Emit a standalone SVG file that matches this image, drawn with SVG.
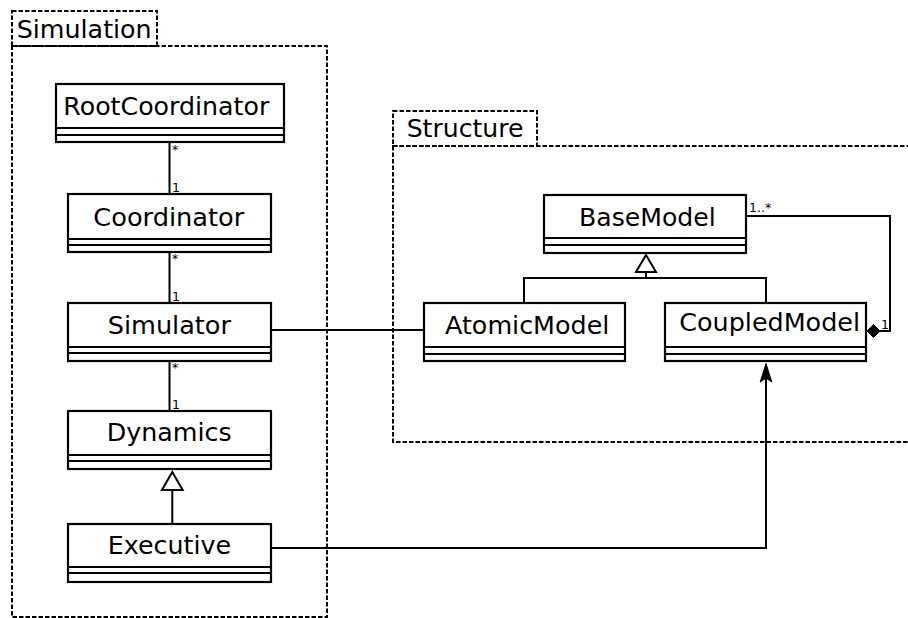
<svg xmlns="http://www.w3.org/2000/svg" width="908" height="618" viewBox="0 0 908 618">
<style>
.pkg{fill:none;stroke:#000;stroke-width:2;stroke-dasharray:4.5,2}
.box{fill:#fff;stroke:#000;stroke-width:2.2}
.sep{stroke:#000;stroke-width:2.2}
.name{font-family:"DejaVu Sans",sans-serif;font-size:25px;fill:#000}
.ptitle{font-family:"DejaVu Sans",sans-serif;font-size:25px;fill:#000}
.mult{font-family:"DejaVu Sans",sans-serif;font-size:12.5px;fill:#000}
.ln{fill:none;stroke:#000;stroke-width:2}
.open{fill:#fff;stroke:#000;stroke-width:2}
.solid{fill:#000;stroke:#000;stroke-width:1}
</style>
<rect width="908" height="618" fill="#fff"/>
<g id="pkg-simulation">
<rect class="pkg" x="12" y="11" width="145" height="35"/>
<rect class="pkg" x="12" y="46" width="315" height="571"/>
<text class="ptitle" x="16.7" y="38" textLength="135" lengthAdjust="spacingAndGlyphs">Simulation</text>
</g>
<g id="pkg-structure">
<rect class="pkg" x="393" y="111" width="144" height="35"/>
<rect class="pkg" x="393" y="146" width="600" height="296"/>
<text class="ptitle" x="406.7" y="137.3" textLength="116.7" lengthAdjust="spacingAndGlyphs">Structure</text>
</g>
<g id="connectors">
<line class="ln" x1="169.5" y1="143" x2="169.5" y2="194"/>
<line class="ln" x1="169.5" y1="253" x2="169.5" y2="303"/>
<line class="ln" x1="169.5" y1="361" x2="169.5" y2="411"/>
<line class="ln" x1="172.3" y1="524" x2="172.3" y2="490"/>
<polygon class="open" points="172.3,472 182.7,490 161.9,490"/>
<line class="ln" x1="271" y1="330" x2="424" y2="330"/>
<path class="ln" d="M271 548 H766 V375"/>
<path class="solid" d="M766 363.5 L771.8 382 L766 378 L760.2 382 Z"/>
<path class="ln" d="M524 303 V278 H766 V303 M646 278 V272"/>
<polygon class="open" points="646,255 656,272 636,272"/>
<path class="ln" d="M746 216 H890 V331 H880"/>
<polygon class="solid" points="867,331 873.5,324.5 880,331 873.5,337.5"/>
<text class="mult" x="172" y="154">*</text>
<text class="mult" x="172" y="192">1</text>
<text class="mult" x="172" y="263">*</text>
<text class="mult" x="172" y="301">1</text>
<text class="mult" x="172" y="372">*</text>
<text class="mult" x="172" y="409">1</text>
<text class="mult" x="749" y="212">1..*</text>
<text class="mult" x="881" y="329">1</text>
</g>
<g id="RootCoordinator">
<rect class="box" x="56" y="84" width="228" height="58"/>
<line class="sep" x1="56" y1="128" x2="284" y2="128"/>
<line class="sep" x1="56" y1="135" x2="284" y2="135"/>
<text class="name" x="63.3" y="115" textLength="206" lengthAdjust="spacingAndGlyphs">RootCoordinator</text>
</g>
<g id="Coordinator">
<rect class="box" x="68" y="194" width="203" height="58"/>
<line class="sep" x1="68" y1="239" x2="271" y2="239"/>
<line class="sep" x1="68" y1="245" x2="271" y2="245"/>
<text class="name" x="93.3" y="226" textLength="151" lengthAdjust="spacingAndGlyphs">Coordinator</text>
</g>
<g id="Simulator">
<rect class="box" x="68" y="303" width="203" height="58"/>
<line class="sep" x1="68" y1="347" x2="271" y2="347"/>
<line class="sep" x1="68" y1="353" x2="271" y2="353"/>
<text class="name" x="107.7" y="334" textLength="123.3" lengthAdjust="spacingAndGlyphs">Simulator</text>
</g>
<g id="Dynamics">
<rect class="box" x="68" y="411" width="203" height="58"/>
<line class="sep" x1="68" y1="455" x2="271" y2="455"/>
<line class="sep" x1="68" y1="461" x2="271" y2="461"/>
<text class="name" x="106.7" y="441" textLength="125" lengthAdjust="spacingAndGlyphs">Dynamics</text>
</g>
<g id="Executive">
<rect class="box" x="68" y="524" width="203" height="58"/>
<line class="sep" x1="68" y1="567" x2="271" y2="567"/>
<line class="sep" x1="68" y1="573" x2="271" y2="573"/>
<text class="name" x="107.7" y="554" textLength="123.3" lengthAdjust="spacingAndGlyphs">Executive</text>
</g>
<g id="BaseModel">
<rect class="box" x="544" y="195" width="202" height="58"/>
<line class="sep" x1="544" y1="238" x2="746" y2="238"/>
<line class="sep" x1="544" y1="245" x2="746" y2="245"/>
<text class="name" x="579" y="225.7" textLength="136.7" lengthAdjust="spacingAndGlyphs">BaseModel</text>
</g>
<g id="AtomicModel">
<rect class="box" x="424" y="303" width="201" height="58"/>
<line class="sep" x1="424" y1="347" x2="625" y2="347"/>
<line class="sep" x1="424" y1="354" x2="625" y2="354"/>
<text class="name" x="445" y="334" textLength="164.3" lengthAdjust="spacingAndGlyphs">AtomicModel</text>
</g>
<g id="CoupledModel">
<rect class="box" x="665" y="303" width="201" height="58"/>
<line class="sep" x1="665" y1="347" x2="866" y2="347"/>
<line class="sep" x1="665" y1="354" x2="866" y2="354"/>
<text class="name" x="679.3" y="331" textLength="180.7" lengthAdjust="spacingAndGlyphs">CoupledModel</text>
</g>
</svg>
